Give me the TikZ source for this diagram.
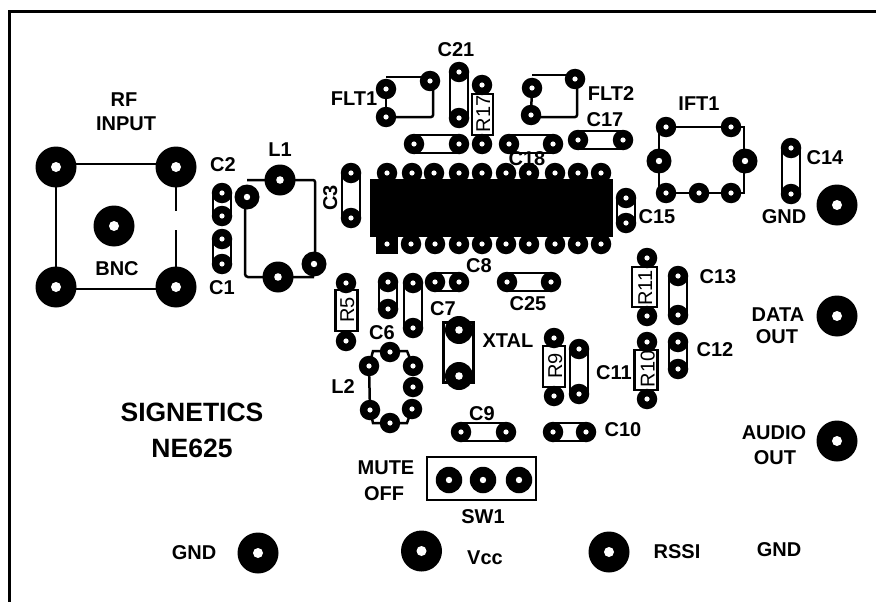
\documentclass[tikz,border=0pt]{standalone}
\usepackage{fontspec}
\setmainfont{Liberation Sans}
\pgfdeclarelayer{back}
\pgfsetlayers{back,main}
\tikzset{
  x=1pt,y=-1pt,
  padbase/.style={circle,fill=black,inner sep=0pt,outer sep=0pt},
  pads/.style={padbase,minimum size=20.5pt,path picture={\fill[white] (path picture bounding box.center) circle (2.6pt);}},
  padm/.style={padbase,minimum size=25pt,path picture={\fill[white] (path picture bounding box.center) circle (3.2pt);}},
  padl/.style={padbase,minimum size=31pt,path picture={\fill[white] (path picture bounding box.center) circle (3.8pt);}},
  padx/.style={padbase,minimum size=41pt,path picture={\fill[white] (path picture bounding box.center) circle (5pt);}},
  trace/.style={draw=black,line width=2.5pt},
  outline/.style={draw=black,line width=2.4pt,fill=white,inner sep=0pt,outer sep=0pt},
  lab/.style={font=\fontsize{20}{20}\selectfont\bfseries,inner sep=0pt,text height=14.4pt,text depth=0pt,align=center},
  big/.style={font=\fontsize{26.5}{26.5}\selectfont\bfseries,inner sep=0pt,text height=19pt,text depth=0pt},
  rlab/.style={font=\fontsize{20}{20}\selectfont,inner sep=0pt,text height=14.4pt,text depth=0pt,rotate=90},
}
\newcommand\capv[2]{\begin{pgfonlayer}{back}\draw[trace] ([xshift=-9pt]#1.center) -- ([xshift=-9pt]#2.center) ([xshift=9pt]#1.center) -- ([xshift=9pt]#2.center);\end{pgfonlayer}}
\newcommand\caph[2]{\begin{pgfonlayer}{back}\draw[trace] ([yshift=-9pt]#1.center) -- ([yshift=-9pt]#2.center) ([yshift=9pt]#1.center) -- ([yshift=9pt]#2.center);\end{pgfonlayer}}
\begin{document}
\begin{tikzpicture}
\useasboundingbox (0,0) rectangle (876,602);
% board edge
\coordinate (edgeA) at (9,602);
\coordinate (edgeB) at (9,12);
\coordinate (edgeC) at (876,12);
\draw[black,line width=3pt] (edgeA) -- (edgeB) -- (edgeC);

% BNC
\node[padx] (bncA) at (56,167) {};
\node[padx] (bncB) at (176,167) {};
\node[padx] (bncC) at (56,287) {};
\node[padx] (bncD) at (176,287) {};
\node[padx] (bncE) at (114,226) {};
\begin{pgfonlayer}{back}
\draw[trace] ([yshift=3pt]bncA.center) -- ([yshift=3pt]bncB.center);
\draw[trace] ([yshift=-2pt]bncC.center) -- ([yshift=-2pt]bncD.center);
\draw[trace] (bncA.center) -- (bncC.center);
\draw[trace] (bncB.center) -- ([yshift=-44pt]bncB.center);
\draw[trace] ([yshift=-63pt]bncB.center) -- (bncD.center);
\end{pgfonlayer}

% C1 C2 C3
\node[pads] (c2a) at (222,193) {};
\node[pads] (c2b) at (222,216) {};
\capv{c2a}{c2b}
\node[pads] (c1a) at (222,239) {};
\node[pads] (c1b) at (222,264) {};
\capv{c1a}{c1b}
\node[pads] (c3a) at (351,173) {};
\node[pads] (c3b) at (351,218) {};
\capv{c3a}{c3b}

% L1
\node[padl] (l1a) at (280,180) {};
\node[padm] (l1b) at (247,197) {};
\node[padl] (l1c) at (278,277) {};
\node[padm] (l1d) at (314,264) {};
\begin{pgfonlayer}{back}
\draw[trace,rounded corners=2pt] ([yshift=17pt]l1b.center) -- (l1a.center) -| ([xshift=1pt]l1d.center);
\draw[trace,rounded corners=3pt] ([xshift=-2pt]l1b.center) |- ([yshift=-13pt]l1d.center);
\end{pgfonlayer}

% FLT1
\node[pads] (f1a) at (386,89) {};
\node[pads] (f1b) at (386,117) {};
\node[pads] (f1c) at (430,81) {};
\begin{pgfonlayer}{back}
\draw[trace] (f1a.center) -- (f1b.center);
\draw[trace] ([yshift=12pt]f1a.center) -- ([yshift=4pt]f1c.center);
\draw[trace,rounded corners=2pt] ([xshift=3pt]f1c.center) |- (f1b.center);
\end{pgfonlayer}

% FLT2
\node[pads] (f2a) at (532,88) {};
\node[pads] (f2b) at (531,115) {};
\node[pads] (f2c) at (575,79) {};
\begin{pgfonlayer}{back}
\draw[trace] (f2a.center) -- (f2b.center);
\draw[trace] ([yshift=13pt]f2a.center) -- ([yshift=4pt]f2c.center);
\draw[trace,rounded corners=2pt] ([xshift=2pt]f2c.center) |- ([yshift=-2pt]f2b.center);
\end{pgfonlayer}

% C21, R17 and the caps above the IC
\node[pads] (c21a) at (459,72) {};
\node[pads] (c21b) at (459,118) {};
\capv{c21a}{c21b}
\begin{pgfonlayer}{back}
\node[outline,minimum width=21pt,minimum height=41pt] (r17) at (482.5,114.5) {};
\end{pgfonlayer}
\node[pads] (r17a) at (482,85) {};
\node[pads] (r17b) at (482,144) {};
\node[pads] (ctopa) at (414,144) {};
\node[pads] (ctopb) at (459,144) {};
\caph{ctopa}{ctopb}
\node[pads] (c18a) at (509,144) {};
\node[pads] (c18b) at (553,144) {};
\caph{c18a}{c18b}
\node[pads] (c17a) at (578,140) {};
\node[pads] (c17b) at (623,140) {};
\caph{c17a}{c17b}

% IC
\begin{pgfonlayer}{back}
\node[fill=black,inner sep=0pt,outer sep=0pt,minimum width=243pt,minimum height=58pt] (ic) at (491.5,208) {};
\end{pgfonlayer}
\foreach \n/\x in {1/387,2/412,3/434,4/459,5/482,6/506,7/529,8/555,9/578,10/601}
  \node[pads] (ict\n) at (\x,173) {};
\foreach \n/\x in {2/411,3/435,4/459,5/482,6/506,7/529,8/555,9/578,10/601}
  \node[pads] (icb\n) at (\x,244) {};
\node[fill=black,inner sep=0pt,outer sep=0pt,minimum width=22pt,minimum height=20pt,path picture={\fill[white] (path picture bounding box.center) circle (2.6pt);}] (icb1) at (387,244) {};

% C15
\node[pads] (c15a) at (626,198) {};
\node[pads] (c15b) at (626,223) {};
\capv{c15a}{c15b}

% IFT1
\node[pads] (ifa) at (666,127) {};
\node[pads] (ifb) at (731,127) {};
\node[padm] (ifc) at (659,161) {};
\node[padm] (ifd) at (745,161) {};
\node[pads] (ife) at (666,193) {};
\node[pads] (iff) at (699,193) {};
\node[pads] (ifg) at (731,193) {};
\begin{pgfonlayer}{back}
\draw[trace] (ifa.center) -- (ifb.center);
\draw[trace] (ife.center) -- (ifg.center);
\draw[trace] (ifa.center) -| (ifc.center) |- (ife.center);
\draw[trace] (ifb.center) -| ([xshift=-1pt]ifd.center) |- (ifg.center);
\end{pgfonlayer}

% C14 and terminals
\node[pads] (c14a) at (791,148) {};
\node[pads] (c14b) at (791,194) {};
\capv{c14a}{c14b}
\node[padx] (tgnd) at (837,205) {};
\node[padx] (tdata) at (837,316) {};
\node[padx] (taudio) at (837,441) {};
\node[padx] (tgndb) at (258,553) {};
\node[padx] (tvcc) at (421.5,551) {};
\node[padx] (trssi) at (609,552) {};

% R5, C6, C7, C8, C25
\begin{pgfonlayer}{back}
\node[outline,minimum width=22pt,minimum height=41pt] (r5) at (346.5,310.5) {};
\node[outline,minimum width=22pt,minimum height=41pt] (r9) at (554,366.5) {};
\node[outline,minimum width=23pt,minimum height=40pt] (r10) at (646,370) {};
\node[outline,minimum width=25pt,minimum height=40pt] (r11) at (644.5,287) {};
\node[outline,minimum width=30pt,minimum height=60pt] (xt) at (458.5,352.5) {};
\end{pgfonlayer}
\node[pads] (r5a) at (346,283) {};
\node[pads] (r5b) at (346,341) {};
\node[pads] (c6a) at (388,282) {};
\node[pads] (c6b) at (388,309) {};
\capv{c6a}{c6b}
\node[pads] (c7a) at (413,283) {};
\node[pads] (c7b) at (413,328) {};
\capv{c7a}{c7b}
\node[pads] (c8a) at (435,282) {};
\node[pads] (c8b) at (459,282) {};
\caph{c8a}{c8b}
\node[pads] (c25a) at (507,282) {};
\node[pads] (c25b) at (551,282) {};
\caph{c25a}{c25b}

% XTAL
\node[padl,minimum size=28pt] (xta) at (459,330) {};
\node[padl,minimum size=28pt] (xtb) at (459,376) {};

% L2
\node[pads] (l2a) at (390,352) {};
\node[pads] (l2b) at (369,366) {};
\node[pads] (l2c) at (413,366) {};
\node[pads] (l2d) at (413,387) {};
\node[pads] (l2e) at (412,409) {};
\node[pads] (l2f) at (370,410) {};
\node[pads] (l2g) at (390,423) {};
\begin{pgfonlayer}{back}
\draw[trace] (l2b.center) -- (l2f.center);
\draw[trace] (l2b.center) -- ([xshift=-17pt,yshift=1pt]l2a.center) -- ([xshift=17pt,yshift=1pt]l2a.center) -- (l2c.center);
\draw[trace] (l2f.center) -- ([xshift=-17pt]l2g.center) -- ([xshift=17pt]l2g.center) -- (l2e.center);
\end{pgfonlayer}

% R9, C11, R10, R11, C12, C13
\node[pads] (r9a) at (554,338) {};
\node[pads] (r9b) at (554,396) {};
\node[pads] (c11a) at (579,349) {};
\node[pads] (c11b) at (579,394) {};
\capv{c11a}{c11b}
\node[pads] (r10a) at (647,342) {};
\node[pads] (r10b) at (647,399) {};
\node[pads] (r11a) at (647,258) {};
\node[pads] (r11b) at (647,316) {};
\node[pads] (c13a) at (678,276) {};
\node[pads] (c13b) at (678,315) {};
\capv{c13a}{c13b}
\node[pads] (c12a) at (678,342) {};
\node[pads] (c12b) at (678,369) {};
\capv{c12a}{c12b}

% C9, C10
\node[pads] (c9a) at (461,432) {};
\node[pads] (c9b) at (506,432) {};
\caph{c9a}{c9b}
\node[pads] (c10a) at (553,432) {};
\node[pads] (c10b) at (586,432) {};
\caph{c10a}{c10b}

% SW1
\begin{pgfonlayer}{back}
\node[outline,minimum width=109pt,minimum height=43pt] (sw) at (481.5,478.5) {};
\end{pgfonlayer}
\node[padm,minimum size=26.5pt] (swa) at (449,480) {};
\node[padm,minimum size=26.5pt] (swb) at (483,480) {};
\node[padm,minimum size=26.5pt] (swc) at (519,480) {};

% labels
\node[lab] (tRF) at (124,99) {RF};
\node[lab] (tINPUT) at (126,123.5) {INPUT};
\node[lab] (tBNC) at (117,268) {BNC};
\node[lab] (tC2) at (223,164) {C2};
\node[lab] (tC1) at (222,287) {C1};
\node[lab] (tL1) at (280,149.5) {L1};
\node[lab,rotate=90] (tC3) at (330,198) {C3};
\node[lab] (tFLT1) at (354,98) {FLT1};
\node[lab] (tC21) at (456,49) {C21};
\node[lab] (tFLT2) at (611,93) {FLT2};
\node[lab] (tC17) at (605,119) {C17};
\node[lab] (tIFT1) at (699,103) {IFT1};
\node[lab] (tC14) at (825,157) {C14};
\node[lab] (tGNDa) at (784,216) {GND};
\node[lab] (tC15) at (657,216) {C15};
\node[lab] (tC18) at (527,158) {C18};
\node[lab] (tC8) at (479,265) {C8};
\node[lab] (tC25) at (528,303) {C25};
\node[lab] (tC13) at (718,276) {C13};
\node[lab] (tDATA) at (778,314) {DATA};
\node[lab] (tOUTa) at (777,336) {OUT};
\node[lab] (tAUDIO) at (774,432) {AUDIO};
\node[lab] (tOUTb) at (775,457) {OUT};
\node[lab] (tC12) at (715,349) {C12};
\node[lab] (tC11) at (614,372) {C11};
\node[lab] (tXTAL) at (508,340) {XTAL};
\node[lab] (tC7) at (443,308) {C7};
\node[lab] (tC6) at (382,332) {C6};
\node[lab] (tL2) at (343,386) {L2};
\node[lab] (tC10) at (623,429) {C10};
\node[lab] (tC9) at (482,413) {C9};
\node[lab] (tSW1) at (483,516) {SW1};
\node[lab] (tMUTE) at (386,467) {MUTE};
\node[lab] (tOFF) at (384,493) {OFF};
\node[big] (tSIG) at (192,412) {SIGNETICS};
\node[big] (tNE) at (192,448) {NE625};
\node[lab] (tGNDb) at (194,552) {GND};
\node[lab] (tVcc) at (485,557) {Vcc};
\node[lab] (tRSSI) at (677,551) {RSSI};
\node[lab] (tGNDc) at (779,549) {GND};
\node[rlab] (tR17) at (483,114) {R17};
\node[rlab] (tR5) at (347,310) {R5};
\node[rlab] (tR9) at (555,366) {R9};
\node[rlab] (tR10) at (647.5,369) {R10};
\node[rlab] (tR11) at (645,288) {R11};
\end{tikzpicture}
\end{document}
